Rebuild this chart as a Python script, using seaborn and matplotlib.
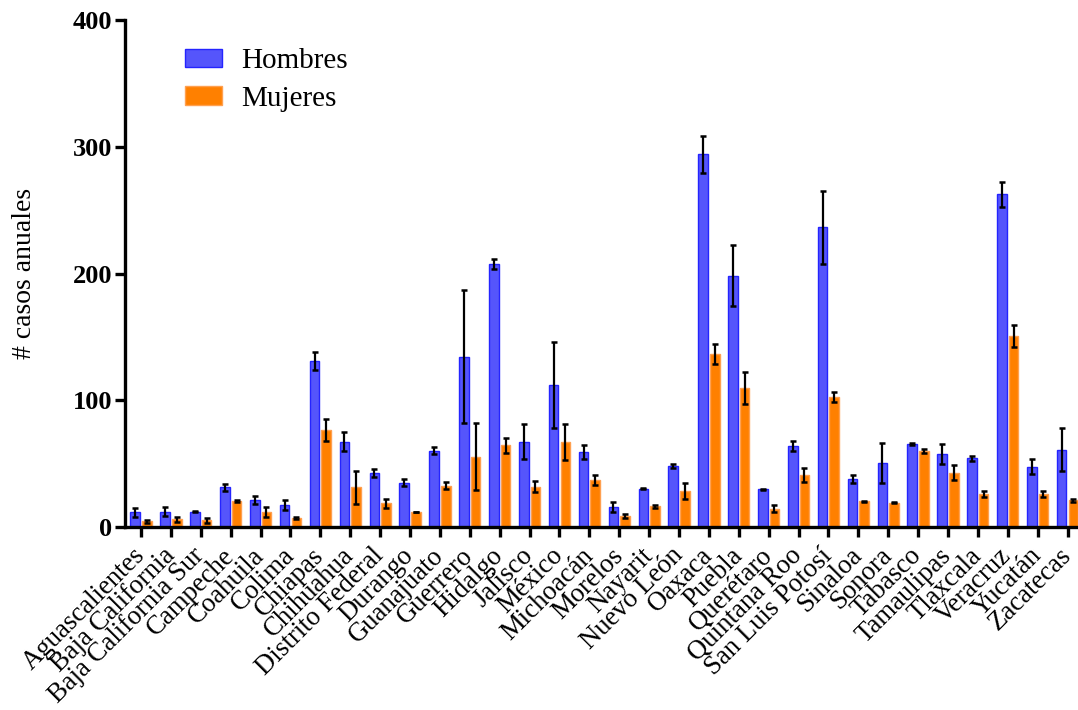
import numpy as np
import pandas as pd
import matplotlib
matplotlib.use("Agg")
import matplotlib.pyplot as plt
import seaborn as sns

estados = [
    "Aguascalientes", "Baja California", "Baja California Sur", "Campeche",
    "Coahuila", "Colima", "Chiapas", "Chihuahua", "Distrito Federal",
    "Durango", "Guanajuato", "Guerrero", "Hidalgo", "Jalisco", "México",
    "Michoacán", "Morelos", "Nayarit", "Nuevo León", "Oaxaca", "Puebla",
    "Querétaro", "Quintana Roo", "San Luis Potosí", "Sinaloa", "Sonora",
    "Tabasco", "Tamaulipas", "Tlaxcala", "Veracruz", "Yucatán", "Zacatecas",
]

hombres = [11.6, 12.1, 12.1, 31.3, 21.3, 17.4, 131.0, 67.3, 42.6,
           35.0, 60.2, 134.4, 207.2, 67.1, 112.0, 59.2, 15.5, 30.3,
           48.1, 294.0, 198.3, 29.7, 63.9, 236.4, 38.1, 50.5, 65.7,
           57.6, 54.2, 262.5, 47.6, 61.0]
hombres_err = [3.4, 3.7, 0.4, 2.6, 3.0, 3.7, 7.2, 7.5, 3.4,
               2.6, 2.9, 52.7, 3.9, 13.8, 33.8, 5.5, 3.9, 0.5,
               1.8, 14.6, 24.2, 0.4, 4.1, 28.9, 3.2, 15.9, 0.8,
               7.8, 2.1, 10.1, 5.7, 16.8]

mujeres = [4.5, 6.3, 5.5, 20.8, 12.1, 7.1, 76.5, 31.3, 18.7,
           12.1, 32.6, 55.5, 64.4, 31.8, 67.1, 37.1, 8.7, 16.3,
           28.7, 136.2, 109.7, 14.5, 41.3, 102.8, 20.2, 19.2, 60.0,
           42.9, 26.0, 150.9, 26.0, 21.0]
mujeres_err = [1.0, 2.0, 2.0, 0.7, 3.8, 1.0, 8.5, 13.0, 3.7,
               0.0, 2.8, 26.3, 5.8, 4.3, 14.2, 3.6, 1.8, 1.0,
               6.2, 7.9, 13.0, 2.9, 5.5, 3.9, 0.5, 0.5, 1.8,
               6.0, 2.4, 8.8, 2.4, 1.5]

sexos = ["Hombres", "Mujeres"]
colores = {"Hombres": "#5555FB", "Mujeres": "#FF8000"}
bordes = {"Hombres": "#2424FF", "Mujeres": "#FFA050"}

df = pd.DataFrame({
    "estado": estados * 2,
    "sexo": ["Hombres"] * len(estados) + ["Mujeres"] * len(estados),
    "casos": hombres + mujeres,
})
errores = {"Hombres": hombres_err, "Mujeres": mujeres_err}
valores = {"Hombres": hombres, "Mujeres": mujeres}

sns.set_style("ticks", {"axes.edgecolor": "black", "text.color": "black",
                        "axes.labelcolor": "black", "xtick.color": "black",
                        "ytick.color": "black"})
plt.rcParams["font.family"] = ["Liberation Serif", "DejaVu Serif"]

fig = plt.figure(figsize=(10.78, 7.10), dpi=100)
ax = fig.add_axes([0.116, 0.2577, 0.884, 0.7141])

sns.barplot(data=df, x="estado", y="casos", hue="sexo", order=estados,
            hue_order=sexos, palette=colores, errorbar=None, saturation=1,
            width=0.78, gap=0.18, ax=ax, legend=False)

# bar edges and error bars, positioned from the drawn patches
for cont, sexo in zip(ax.containers, sexos):
    xs = []
    for p in cont.patches:
        p.set_edgecolor(bordes[sexo])
        p.set_linewidth(1.0)
        xs.append(p.get_x() + p.get_width() / 2)
    ax.errorbar(xs, valores[sexo], yerr=errores[sexo], fmt="none",
                ecolor="black", elinewidth=1.6, capsize=2.5,
                capthick=1.8, zorder=5)

ax.set_xlim(-0.535, 31.35)
ax.set_ylim(0, 400)
ax.set_yticks([0, 100, 200, 300, 400])
ax.set_xlabel("")
ax.set_ylabel("# casos anuales", fontsize=20, labelpad=26)

for lbl in ax.get_yticklabels():
    lbl.set_fontweight("bold")
    lbl.set_fontsize(19)
ax.set_xticks(range(len(estados)))
ax.set_xticklabels(estados, rotation=45, ha="right", va="center",
                   rotation_mode="anchor", fontsize=19.3)

ax.tick_params(axis="both", width=2.4, length=7, direction="out")
ax.tick_params(axis="x", pad=11)
ax.tick_params(axis="y", pad=2)
for s in ("left", "bottom"):
    ax.spines[s].set_linewidth(2.4)
sns.despine(ax=ax)

handles = [plt.Rectangle((0, 0), 1, 1, facecolor=colores[s],
                         edgecolor=bordes[s], linewidth=1.0) for s in sexos]
fig.legend(handles, sexos, loc="upper left", bbox_to_anchor=(0.172, 0.932),
           frameon=False, fontsize=21, borderpad=0, borderaxespad=0,
           handlelength=1.27, handleheight=0.62, handletextpad=0.65,
           labelspacing=0.4)

fig.savefig("out.png", dpi=100)
